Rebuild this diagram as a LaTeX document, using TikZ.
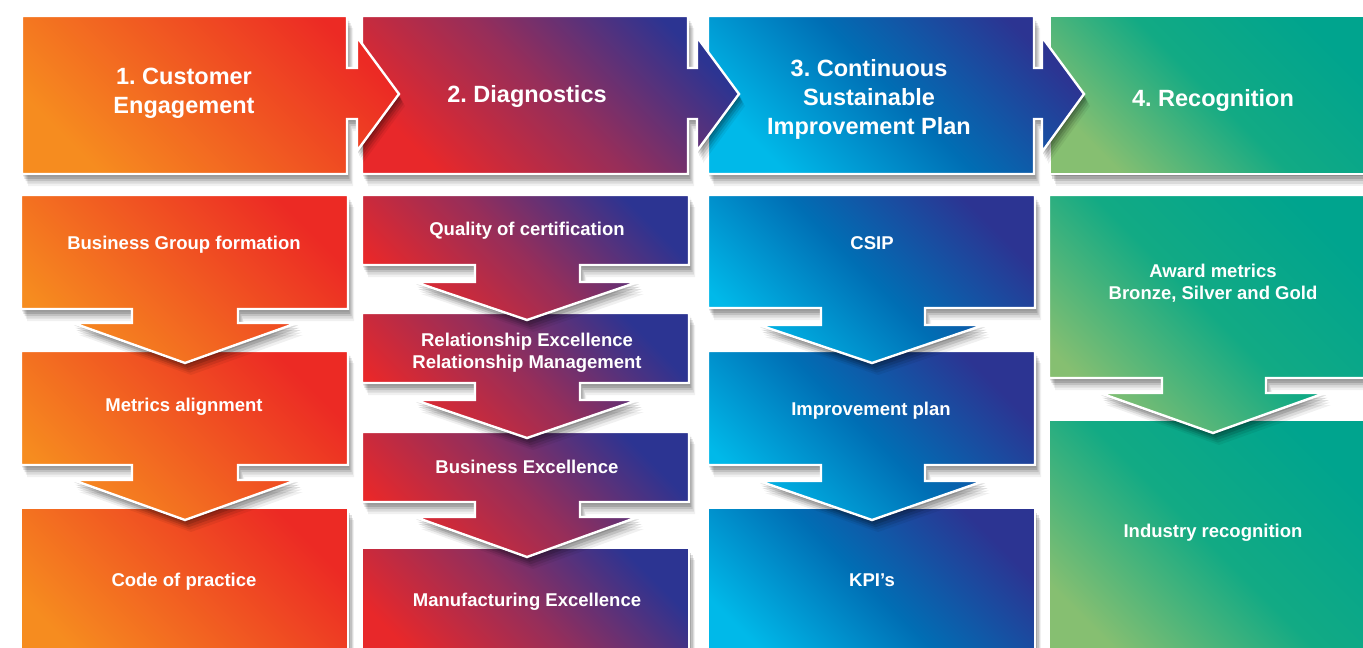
\documentclass[tikz,border=0pt]{standalone}
\usepackage{fontspec}
\setmainfont{Liberation Sans}
\usepackage{xcolor}
\usepackage{tikz}
\usetikzlibrary{shadows}
\definecolor{corange}{RGB}{246,140,31}
\definecolor{cred}{RGB}{236,42,36}
\definecolor{cscarlet}{RGB}{232,40,42}
\definecolor{cplum}{RGB}{150,46,90}
\definecolor{cindigo}{RGB}{44,52,146}
\definecolor{ccyan}{RGB}{0,185,233}
\definecolor{cblue}{RGB}{0,110,180}
\definecolor{cgreen}{RGB}{134,191,113}
\definecolor{cteal}{RGB}{18,170,132}
\definecolor{cjade}{RGB}{0,164,142}
\frenchspacing

\begin{document}
\begin{tikzpicture}[
  x=0.5pt,y=-0.5pt,
  panel/.style={draw=white,line width=1.2pt,
    drop shadow={shadow xshift=.6pt,shadow yshift=-1.2pt,opacity=.14,fill=black},
    drop shadow={shadow xshift=1.2pt,shadow yshift=-2.4pt,opacity=.14,fill=black},
    drop shadow={shadow xshift=1.8pt,shadow yshift=-3.6pt,opacity=.12,fill=black},
    drop shadow={shadow xshift=2.4pt,shadow yshift=-4.8pt,opacity=.09,fill=black},
    drop shadow={shadow xshift=3pt,shadow yshift=-6pt,opacity=.06,fill=black}},
  orangepanel/.style={panel,left color=corange,right color=cred,shading angle=135},
  plumpanel/.style={panel,left color=cscarlet,right color=cindigo,middle color=cplum,shading angle=135},
  bluepanel/.style={panel,left color=ccyan,right color=cindigo,middle color=cblue,shading angle=135},
  greenpanel/.style={panel,left color=cgreen,right color=cjade,middle color=cteal,shading angle=135},
  head/.style={text=white,font=\fontsize{11.75}{14.5}\selectfont\bfseries,align=center},
  item/.style={text=white,font=\fontsize{9.25}{11}\selectfont\bfseries,align=center},
]
\useasboundingbox (0,0) rectangle (1363,647);
\clip (0,0) rectangle (1363,647);

% column 1
\path[orangepanel] (21,508) rectangle (348,670);
\path[orangepanel] (21,351) -- (348,351) -- (348,465) -- (238,465) -- (238,480) -- (297,480) -- (185,520)
  -- (73,480) -- (132,480) -- (132,465) -- (21,465) -- cycle;
\path[orangepanel] (21,195) -- (348,195) -- (348,309) -- (238,309) -- (238,323) -- (297,323) -- (185,363)
  -- (73,323) -- (132,323) -- (132,309) -- (21,309) -- cycle;

% column 2
\path[plumpanel] (362,548) rectangle (689,670);
\path[plumpanel] (362,432) -- (689,432) -- (689,502) -- (580,502) -- (580,517) -- (638,517) -- (527,557)
  -- (415,517) -- (475,517) -- (475,502) -- (362,502) -- cycle;
\path[plumpanel] (362,313) -- (689,313) -- (689,383) -- (580,383) -- (580,400) -- (638,400) -- (527,438)
  -- (415,400) -- (475,400) -- (475,383) -- (362,383) -- cycle;
\path[plumpanel] (362,195) -- (689,195) -- (689,265) -- (580,265) -- (580,282) -- (638,282) -- (527,320)
  -- (415,282) -- (475,282) -- (475,265) -- (362,265) -- cycle;

% column 3
\path[bluepanel] (708,508) rectangle (1035,670);
\path[bluepanel] (708,351) -- (1035,351) -- (1035,465) -- (925,465) -- (925,481) -- (984,481) -- (872,520)
  -- (759,481) -- (821,481) -- (821,465) -- (708,465) -- cycle;
\path[bluepanel] (708,195) -- (1035,195) -- (1035,308) -- (925,308) -- (925,325) -- (984,325) -- (872,363)
  -- (759,325) -- (821,325) -- (821,308) -- (708,308) -- cycle;

% column 4
\path[greenpanel] (1049,420) rectangle (1376,670);
\path[greenpanel] (1049,195) -- (1376,195) -- (1376,378) -- (1266,378) -- (1266,393) -- (1325,393) -- (1213,433)
  -- (1100,393) -- (1162,393) -- (1162,378) -- (1049,378) -- cycle;

% header row, right to left so each arrow lies on the next panel
\path[greenpanel] (1050,16) rectangle (1376,174);
\path[bluepanel] (708,16) -- (1034,16) -- (1034,68) -- (1042,68) -- (1042,37) -- (1084,94) -- (1042,152)
  -- (1042,119) -- (1034,119) -- (1034,174) -- (708,174) -- cycle;
\path[plumpanel] (362,16) -- (688,16) -- (688,68) -- (697,68) -- (697,37) -- (739,94) -- (697,151)
  -- (697,119) -- (688,119) -- (688,174) -- (362,174) -- cycle;
\path[orangepanel] (22,16) -- (347,16) -- (347,68) -- (357,68) -- (357,37) -- (399,94) -- (357,151)
  -- (357,119) -- (347,119) -- (347,174) -- (22,174) -- cycle;

% labels
\node[head] (engage) at (184,93) {1. Customer\\Engagement};
\node[head] (diag) at (527,96) {2. Diagnostics};
\node[head] (csiphead) at (869,99) {3. Continuous\\Sustainable\\Improvement Plan};
\node[head] (recog) at (1213,100) {4. Recognition};

\node[item] (bgform) at (184,245) {Business Group formation};
\node[item] (metrics) at (184,407) {Metrics alignment};
\node[item] (code) at (184,582) {Code of practice};
\node[item] (quality) at (527,231) {Quality of certification};
\node[item] (relex) at (527,353) {Relationship Excellence\\Relationship Management};
\node[item] (busex) at (527,467) {Business Excellence};
\node[item] (manuf) at (527,602) {Manufacturing Excellence};
\node[item] (csip) at (872,243) {CSIP};
\node[item] (impplan) at (871,411) {Improvement plan};
\node[item] (kpi) at (872,580) {KPI’s};
\node[item] (award) at (1213,283) {Award metrics\\Bronze, Silver and Gold};
\node[item] (industry) at (1213,533) {Industry recognition};
\end{tikzpicture}
\end{document}
